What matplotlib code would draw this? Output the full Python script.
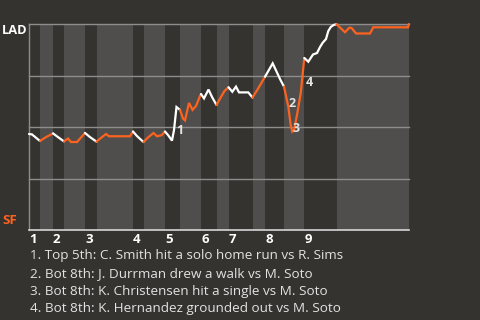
import matplotlib
matplotlib.use("Agg")
import matplotlib.pyplot as plt
import numpy as np

# ---- data ----
# game progress (play position) and LAD win probability (%)
progress = [0, 3, 11, 17, 21, 24, 29, 35, 39, 42, 48, 56, 61, 67.5, 72, 77, 80, 101, 104,
            108, 114.5, 119, 124.5, 128, 132.5, 136, 139, 143, 145, 147.5, 151,
            154, 156, 160, 163.5, 167, 171, 172, 175, 179.5, 183, 187.5,
            192, 195.5, 199.5, 203.3, 207, 210, 219.3, 223.5, 229.3, 236,
            243.7, 251, 255, 259.3, 261.7, 263.3, 265, 268.3, 271.7, 275.3,
            279.3, 284, 288, 291, 293.7, 297, 299.3, 301.7, 304.5, 307.5,
            316, 320.3, 322.5, 327, 341, 344.3, 379, 380]
lad_wp = [46.6, 46.4, 43.2, 45.1, 46.1, 46.9, 45.1, 43.0, 44.4, 42.7, 42.7, 47.1, 45.1, 42.9,
          44.7, 46.6, 45.5, 45.5, 47.8,
          45.6, 42.7, 44.9, 47.1, 45.5, 46.0, 47.8, 46.1, 43.4, 48.5, 59.7, 58.3,
          54.1, 53.2, 61.7, 58.3, 60.2, 65.0, 66.0, 63.9, 68.2, 64.6, 60.7,
          64.6, 67.5, 69.3, 67.1, 69.6, 66.8, 66.8, 64.3, 68.8, 74.4,
          80.9, 73.3, 69.6, 59.9, 51.0, 47.7, 48.3, 56.7, 66.4, 83.5,
          81.7, 85.2, 85.9, 88.8, 90.9, 92.7, 96.6, 98.5, 99.5, 99.9,
          96.0, 98.2, 98.1, 95.4, 95.4, 98.4, 98.4, 100.0]
# half-inning boundaries (top 1st ... bottom 9th)
half_bounds = [0, 11, 24, 35, 56, 67.5, 104, 114.5, 136, 151, 172, 187.5,
               199.5, 223.5, 236, 255, 275.3, 307.5, 380]
innings = ["1", "2", "3", "4", "5", "6", "7", "8", "9"]
event_labels = ["1", "2", "3", "4"]
event_x = [151, 263, 267.3, 280]
event_y = [48.5, 61.2, 49.2, 71.8]
event_text = [
    "1. Top 5th: C. Smith hit a solo home run vs R. Sims",
    "2. Bot 8th: J. Durrman drew a walk vs M. Soto",
    "3. Bot 8th: K. Christensen hit a single vs M. Soto",
    "4. Bot 8th: K. Hernandez grounded out vs M. Soto",
]
team_top = "LAD"
team_bottom = "SF"

# ---- style ----
BG = "#353330"
BAND = "#4f4e4c"
ORANGE = "#fd621e"
GRID = "#8e8d8b"
plt.rcParams["font.family"] = ["Open Sans", "DejaVu Sans"]

fig = plt.figure(figsize=(4.8, 3.2), dpi=100, facecolor=BG)
ax = fig.add_axes([29 / 480, 1 - 230 / 320, 380 / 480, 206 / 320])
ax.set_facecolor(BG)
ax.set_xlim(half_bounds[0], half_bounds[-1])
ax.set_ylim(0, 100)

# bands for bottom halves
for i in range(1, len(half_bounds) - 1, 2):
    ax.axvspan(half_bounds[i], half_bounds[i + 1], color=BAND, lw=0, zorder=0)

for yv in [25, 50, 75, 100]:
    ax.axhline(yv, color=GRID, lw=1, zorder=1, clip_on=False)

px = np.array(progress)
py = np.array(lad_wp)
for i in range(len(half_bounds) - 1):
    a, b = half_bounds[i], half_bounds[i + 1]
    m = (px >= a - 1e-6) & (px <= b + 1e-6)
    col = "white" if i % 2 == 0 else ORANGE
    ax.plot(px[m], py[m], color=col, lw=1.6, zorder=3, solid_capstyle="round",
            solid_joinstyle="miter", clip_on=False)

for lab, x, y in zip(event_labels, event_x, event_y):
    ax.text(x, y, lab, color="#e4e4e4", fontsize=9, fontweight="bold",
            ha="center", va="center", zorder=4)

for s in ["top", "right"]:
    ax.spines[s].set_visible(False)
ax.spines["bottom"].set_color("#d6d6d6")
ax.spines["bottom"].set_linewidth(1.2)
ax.spines["left"].set_color(GRID)
ax.spines["left"].set_linewidth(1)
ax.set_xticks([])
ax.set_yticks([])

# inning labels
for k, lab in enumerate(innings):
    ax.text(half_bounds[2 * k], -1.5, lab, color="white", fontsize=9.5,
            fontweight="bold", ha="left", va="top")

fig.text(2 / 480, 1 - 31 / 320, team_top, color="white", fontsize=9.3,
         fontweight="bold", ha="left", va="center")
fig.text(2 / 480, 1 - 221 / 320, team_bottom, color=ORANGE, fontsize=9.5,
         fontweight="bold", ha="left", va="center")

for k, t in enumerate(event_text):
    fig.text(30 / 480, 1 - (259 + k * 17.8) / 320, t, color="#e2e2e2",
             fontsize=9.7, ha="left", va="baseline")

fig.savefig("out.png", dpi=100, facecolor=BG)
